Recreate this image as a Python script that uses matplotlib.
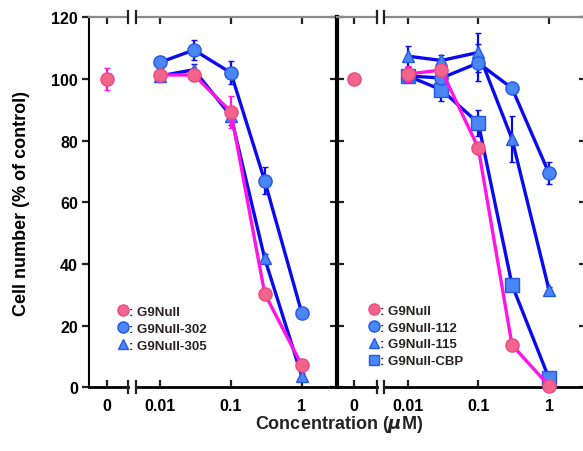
import matplotlib
matplotlib.use("Agg")
import matplotlib.pyplot as plt
from matplotlib.lines import Line2D
import numpy as np

plt.rcParams['font.family'] = ['Liberation Sans', 'DejaVu Sans']
plt.rcParams['font.weight'] = 'bold'

# ---------------- data ----------------
conc = [0.01, 0.03, 0.1, 0.3, 1]
y_ticks = [0, 20, 40, 60, 80, 100, 120]
x_log_ticks = [0.01, 0.1, 1]
x_log_labels = ["0.01", "0.1", "1"]

# left panel
L_names = [": G9Null", ": G9Null-302", ": G9Null-305"]
L_zero = 100
L_zero_err = 3.5
L_g9 = [101.3, 101.3, 89.4, 30.4, 7.2]
L_g9_err = [2.0, 1.5, 5.2, 1.5, 1.0]
L_302 = [105.4, 109.4, 102.0, 67.0, 24.2]
L_302_err = [1.5, 3.4, 3.7, 4.4, 1.0]
L_305 = [101.0, 103.0, 88.0, 41.8, 3.7]
L_305_err = [2.0, 1.9, 3.0, 1.5, 1.0]

# right panel
R_names = [": G9Null", ": G9Null-112", ": G9Null-115", ": G9Null-CBP"]
R_zero = 100
R_zero_err = 0
R_g9 = [101.6, 102.9, 77.6, 13.7, 0.5]
R_g9_err = [2.5, 1.0, 1.0, 1.0, 0.5]
R_112 = [101.0, 100.3, 105.2, 97.0, 69.4]
R_112_err = [1.5, 1.5, 6.0, 1.0, 3.6]
R_115 = [107.4, 106.0, 108.6, 80.5, 31.6]
R_115_err = [3.4, 1.8, 6.4, 7.4, 1.0]
R_cbp = [101.0, 96.5, 85.7, 33.2, 2.9]
R_cbp_err = [1.5, 3.5, 4.3, 1.0, 1.0]

# ---------------- style ----------------
PINK_LINE = '#FF14E6'
PINK_FACE = '#F2648C'
PINK_EDGE = '#EE4A82'
BLUE_LINE = '#0A0AEE'
BLUE_FACE = '#4A86F4'
BLUE_EDGE = '#2458E8'

W, H = 583, 452
fig = plt.figure(figsize=(W / 100, H / 100), dpi=100)

y0_px, y120_px = 388.3, 18.3
bottom = (H - y0_px) / H
height = (y0_px - y120_px) / H


def fx(px):
    return px / W


def add_axes(x1, x2):
    return fig.add_axes([fx(x1), bottom, fx(x2 - x1), height])


Lz = add_axes(89, 128)
Ll = add_axes(136, 337)
Rz = add_axes(337, 377)
Rl = add_axes(384, 586)

Lz.set_xlim(89 - 106.7, 128 - 106.7)
Rz.set_xlim(337 - 354.0, 377 - 354.0)
Ll.set_xscale('log')
Rl.set_xscale('log')
Ll.set_xlim(10 ** ((136 - 301.7) / 70.8), 10 ** ((337 - 301.7) / 70.8))
Rl.set_xlim(10 ** ((384 - 549.0) / 70.7), 10 ** ((586 - 549.0) / 70.7))

for ax in (Lz, Ll, Rz, Rl):
    ax.set_ylim(0, 120)
    ax.set_yticks(y_ticks)
    ax.minorticks_off()
    ax.patch.set_alpha(0)
    ax.spines['top'].set_color('#8a8a8a')
    ax.spines['top'].set_linewidth(1.6)
    ax.spines['bottom'].set_color('black')
    ax.spines['bottom'].set_linewidth(2.0)
    ax.tick_params(axis='x', which='both', direction='in', top=True, bottom=True,
                   length=5, width=1.6, labelsize=11.5, pad=8, color='#222222')
    ax.tick_params(axis='y', which='both', length=5, width=1.6, color='#222222')

for ax in (Lz, Rz):
    ax.set_xticks([0])
    ax.set_xticklabels(["0"], fontweight='bold')
    ax.spines['right'].set_visible(False)
for ax in (Ll, Rl):
    ax.set_xticks(x_log_ticks)
    ax.set_xticklabels(x_log_labels, fontweight='bold')
    ax.spines['left'].set_visible(False)
    ax.minorticks_off()

Lz.spines['left'].set_linewidth(1.5)
Lz.tick_params(axis='y', direction='out', left=True, right=False, labelsize=11.5, pad=3)
for lab in Lz.get_yticklabels():
    lab.set_fontweight('bold')
Ll.spines['right'].set_visible(False)
Ll.tick_params(axis='y', direction='in', left=False, right=True, labelleft=False)
Rz.spines['left'].set_linewidth(3.0)
Rz.tick_params(axis='y', direction='in', left=True, right=False, labelleft=False)
Rl.spines['right'].set_linewidth(1.5)
Rl.tick_params(axis='y', direction='in', left=False, right=True, labelleft=False)


def plot_series(ax_log, vals, errs, line, face, edge, marker, ms, z):
    ax_log.errorbar(conc, vals, yerr=errs, color=line, lw=2.4, ecolor=line, elinewidth=1.6,
                    capsize=2.5, capthick=1.6, marker=marker, ms=ms, mfc=face, mec=edge,
                    mew=1.0, zorder=z, clip_on=False)


def plot_zero(ax_zero, val, err, line, face, edge, marker, ms):
    ax_zero.errorbar([0], [val], yerr=[err] if err else None, color=line,
                     ecolor=line, elinewidth=1.6, capsize=2.5, capthick=1.6, marker=marker,
                     ms=ms, mfc=face, mec=edge, mew=1.0, ls='none', zorder=5, clip_on=False)


# left panel
plot_series(Ll, L_305, L_305_err, BLUE_LINE, BLUE_FACE, BLUE_EDGE, '^', 9, 3)
plot_series(Ll, L_302, L_302_err, BLUE_LINE, BLUE_FACE, BLUE_EDGE, 'o', 9.5, 4)
plot_series(Ll, L_g9, L_g9_err, PINK_LINE, PINK_FACE, PINK_EDGE, 'o', 9.5, 5)
plot_zero(Lz, L_zero, L_zero_err, PINK_LINE, PINK_FACE, PINK_EDGE, 'o', 9.5)

# right panel
plot_series(Rl, R_cbp, R_cbp_err, BLUE_LINE, BLUE_FACE, BLUE_EDGE, 's', 9.5, 3)
plot_series(Rl, R_115, R_115_err, BLUE_LINE, BLUE_FACE, BLUE_EDGE, '^', 9, 4)
plot_series(Rl, R_112, R_112_err, BLUE_LINE, BLUE_FACE, BLUE_EDGE, 'o', 9.5, 4)
plot_series(Rl, R_g9, R_g9_err, PINK_LINE, PINK_FACE, PINK_EDGE, 'o', 9.5, 5)
plot_zero(Rz, R_zero, R_zero_err, PINK_LINE, PINK_FACE, PINK_EDGE, 'o', 9.5)

# break marks
for xb in (128, 136, 377, 384):
    for yb in (y0_px, y120_px):
        fig.add_artist(Line2D([fx(xb), fx(xb)], [(H - yb - 6) / H, (H - yb + 6) / H],
                              color='#222222', lw=1.6))


def make_handles(specs):
    return [Line2D([], [], ls='none', marker=m, mfc=f, mec=e, ms=s, mew=1.0)
            for m, f, e, s in specs]


L_specs = [('o', PINK_FACE, PINK_EDGE, 8), ('o', BLUE_FACE, BLUE_EDGE, 8), ('^', BLUE_FACE, BLUE_EDGE, 7.5)]
R_specs = [('o', PINK_FACE, PINK_EDGE, 8), ('o', BLUE_FACE, BLUE_EDGE, 8), ('^', BLUE_FACE, BLUE_EDGE, 7.5),
           ('s', BLUE_FACE, BLUE_EDGE, 7)]

legL = fig.legend(make_handles(L_specs), L_names, loc='upper left',
                  bbox_to_anchor=(fx(107), (H - 296) / H), frameon=False,
                  handlelength=0.8, handletextpad=0.1, labelspacing=0.35,
                  prop={'size': 9.5, 'weight': 'bold'}, borderpad=0.3)
legR = fig.legend(make_handles(R_specs), R_names, loc='upper left',
                  bbox_to_anchor=(fx(358), (H - 295) / H), frameon=False,
                  handlelength=0.8, handletextpad=0.1, labelspacing=0.35,
                  prop={'size': 9.5, 'weight': 'bold'}, borderpad=0.3)
for leg in (legL, legR):
    for t in leg.get_texts():
        t.set_color('#2a2222')

fig.text(fx(22), (H - 203) / H, "Cell number (% of control)", rotation=90,
         ha='center', va='center', fontsize=13, fontweight='bold')
fig.text(fx(339), (H - 425) / H, "Concentration ($\\mu$M)", ha='center', va='center',
         fontsize=13, fontweight='bold', color='#222222')

fig.savefig("out.png", dpi=100)
